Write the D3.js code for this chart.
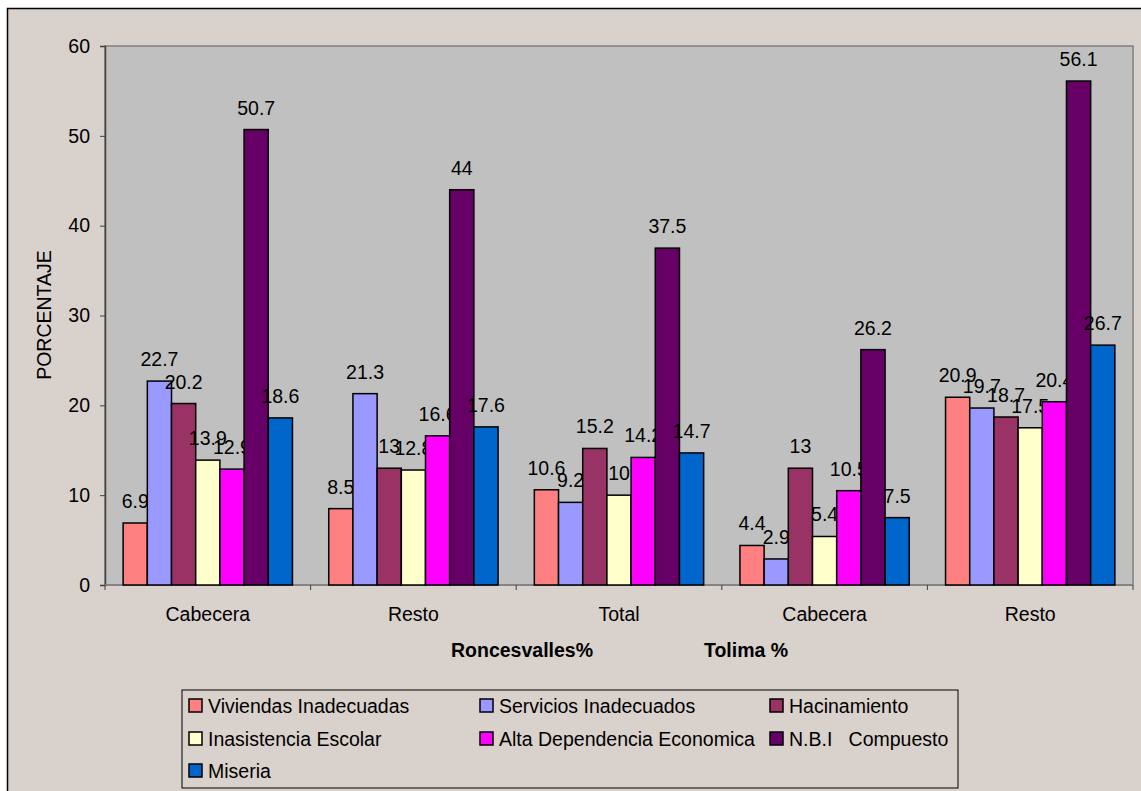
<!DOCTYPE html>
<html><head><meta charset="utf-8">
<script src="https://cdn.jsdelivr.net/npm/d3@7"></script>
<style>body{margin:0;background:#fff}svg{display:block}text{font-family:"Liberation Sans",Arial,sans-serif}</style>
</head><body>
<script>
const categories = ["Cabecera","Resto","Total","Cabecera","Resto"];
const seriesNames = ["Viviendas Inadecuadas","Servicios Inadecuados","Hacinamiento","Inasistencia Escolar","Alta Dependencia Economica","N.B.I   Compuesto","Miseria"];
const viviendas = [6.9, 8.5, 10.6, 4.4, 20.9];
const servicios = [22.7, 21.3, 9.2, 2.9, 19.7];
const hacinamiento = [20.2, 13, 15.2, 13, 18.7];
const inasistencia = [13.9, 12.8, 10, 5.4, 17.5];
const altaDependencia = [12.9, 16.6, 14.2, 10.5, 20.4];
const nbi = [50.7, 44, 37.5, 26.2, 56.1];
const miseria = [18.6, 17.6, 14.7, 7.5, 26.7];
const yTicks = [0,10,20,30,40,50,60];
const groupLabels = ["Roncesvalles%","Tolima %"];
const colors = ["#FF8080","#9999FF","#993366","#FFFFCC","#FF00FF","#660066","#0066CC"];

const series = [viviendas, servicios, hacinamiento, inasistencia, altaDependencia, nbi, miseria];
const W=1141,H=791, FS=19.5;
const svg=d3.select("body").append("svg").attr("width",W).attr("height",H);
svg.append("rect").attr("x",7.5).attr("y",8.5).attr("width",W).attr("height",H).attr("fill","#D9D1CB").attr("stroke","#000").attr("stroke-width",1.5);

const L=105,R=1133,T=46,B=585;
const x=d3.scaleBand().domain(d3.range(categories.length)).range([L,R]).paddingInner(0).paddingOuter(0);
const bw = x.bandwidth()/8.5;
const y=d3.scaleLinear().domain([0,60]).range([B,T]);

svg.append("rect").attr("x",L).attr("y",T).attr("width",R-L).attr("height",B-T).attr("fill","#C0C0C0").attr("stroke","#808080").attr("stroke-width",1.5);

// y axis
const ya=svg.append("g").attr("transform",`translate(${L},0)`).call(d3.axisLeft(y).tickValues(yTicks).tickSize(5).tickPadding(10).tickFormat(d3.format("d")));
ya.select(".domain").attr("stroke","#404040").attr("stroke-width",1.5);
ya.selectAll(".tick line").attr("stroke","#404040");
ya.selectAll("text").attr("font-size",FS).attr("fill","#000").style("font-family","Liberation Sans, Arial");

// x axis
svg.append("line").attr("x1",L).attr("x2",R).attr("y1",B).attr("y2",B).attr("stroke","#808080").attr("stroke-width",1.5);
svg.selectAll(".xt").data(d3.range(categories.length+1)).enter().append("line")
 .attr("x1",i=>L+i*x.step()).attr("x2",i=>L+i*x.step()).attr("y1",B).attr("y2",B+5).attr("stroke","#404040");
svg.selectAll(".xl").data(categories).enter().append("text")
 .attr("x",(d,i)=>x(i)+x.bandwidth()/2).attr("y",621).attr("text-anchor","middle").attr("font-size",FS).text(d=>d);

// bars
series.forEach((s,si)=>{
  const g=svg.append("g");
  g.selectAll("rect").data(s).enter().append("rect")
   .attr("x",(d,i)=>x(i)+0.75*bw+si*bw).attr("y",d=>y(d)).attr("width",bw).attr("height",d=>B-y(d))
   .attr("fill",colors[si]).attr("stroke","#000").attr("stroke-width",1.5);
  g.selectAll("text").data(s).enter().append("text")
   .attr("x",(d,i)=>x(i)+0.75*bw+si*bw+bw/2).attr("y",d=>y(d)-15).attr("text-anchor","middle").attr("font-size",FS).text(d=>d);
});

// axis titles
svg.append("text").attr("transform","translate(51,315) rotate(-90)").attr("text-anchor","middle").attr("font-size",FS).text("PORCENTAJE");
svg.append("text").attr("x",522).attr("y",657).attr("text-anchor","middle").attr("font-size",FS).attr("font-weight","bold").text(groupLabels[0]);
svg.append("text").attr("x",746).attr("y",657).attr("text-anchor","middle").attr("font-size",FS).attr("font-weight","bold").text(groupLabels[1]);

// legend
svg.append("rect").attr("x",182).attr("y",690).attr("width",776).attr("height",98).attr("fill","none").attr("stroke","#000").attr("stroke-width",1);
const colX=[189,480,770], rowY=[706,739,771];
seriesNames.forEach((n,i)=>{
  const cx=colX[i%3], cy=rowY[Math.floor(i/3)];
  svg.append("rect").attr("x",cx).attr("y",cy-7).attr("width",13).attr("height",13).attr("fill",colors[i]).attr("stroke","#000").attr("stroke-width",1.5);
  svg.append("text").attr("x",cx+19).attr("y",cy+7).attr("font-size",FS).attr("xml:space","preserve").style("white-space","pre").text(n);
});
</script>
</body></html>
